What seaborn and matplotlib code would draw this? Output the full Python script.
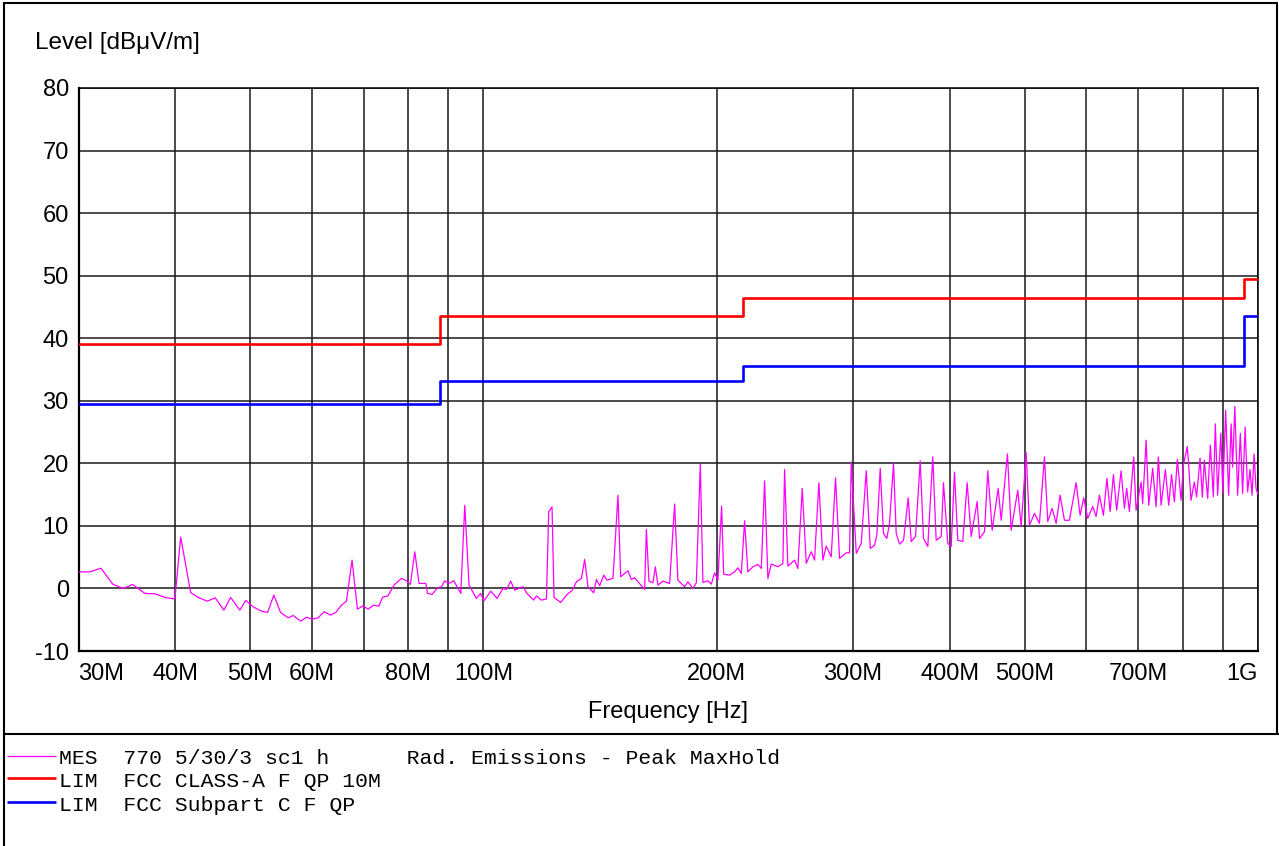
import matplotlib
matplotlib.use('Agg')
import matplotlib.pyplot as plt
from matplotlib.lines import Line2D
from matplotlib.ticker import NullFormatter
import seaborn as sns

# ---- measured trace (MHz, dBuV/m) ----
freq_mhz = [
    30.00, 31.04, 32.07, 33.21, 34.27, 35.24, 36.55, 37.66, 38.79, 39.76,
    39.96, 40.65, 41.87, 42.83, 43.99, 45.04, 46.22, 47.15, 48.47, 49.34,
    50.42, 51.70, 52.63, 53.62, 54.70, 55.95, 56.79, 58.10, 59.09, 60.08,
    61.16, 62.26, 63.45, 64.46, 65.56, 66.54, 67.66, 68.75, 69.91, 70.95,
    72.16, 73.30, 74.04, 75.29, 76.64, 78.34, 79.51, 80.46, 81.53, 82.57,
    84.24, 84.67, 85.83, 87.22, 88.26, 89.13, 90.20, 91.54, 93.47, 94.59,
    95.80, 97.93, 99.11, 100.17, 102.19, 104.11, 105.98,
    107.06, 108.44, 109.74, 112.47, 113.82, 116.11, 117.05, 118.80, 120.58, 121.40,
    122.60, 123.34, 125.81, 127.96, 130.26, 131.82, 133.79, 135.11, 136.44, 138.77,
    139.88, 141.26, 142.95, 144.36, 146.95, 149.16, 150.35, 152.15, 153.65, 155.21,
    156.74, 158.29, 161.47, 162.29, 163.55, 165.50, 166.68, 167.97, 170.49, 173.92,
    176.52, 178.25, 181.84, 183.63, 186.39, 188.28, 190.53, 192.01, 194.89, 196.87,
    198.81, 200.76, 202.98, 204.20, 207.87, 210.97, 213.05, 215.21, 217.33, 219.47,
    222.77, 226.11, 228.41, 230.65, 232.93, 235.29, 239.95, 243.53, 244.77, 247.18,
    252.15, 254.63, 257.97, 261.05, 264.97, 267.58, 271.03, 274.27, 277.06, 281.19,
    284.81, 288.22, 294.02,
    296.91, 298.43, 302.91, 307.43, 312.03, 315.78, 319.81, 321.99, 325.26, 328.47,
    331.70, 334.39, 338.37, 341.12, 344.49, 348.61, 353.49, 356.64, 361.23, 366.32,
    369.93, 374.69, 380.28, 384.14, 389.91, 392.58, 397.63, 401.67, 405.63, 409.62,
    415.74, 421.22, 426.26, 433.93, 436.93, 443.45, 447.83, 453.73, 461.89, 466.03,
    474.82, 480.07, 489.57, 494.59, 501.97, 506.91, 514.51, 522.18, 530.02, 535.24,
    542.30, 548.74, 555.30, 562.45, 570.85, 582.33, 589.30, 595.63, 602.75, 611.74,
    618.00, 624.09, 631.51, 638.16, 644.25, 650.59, 657.00, 665.66, 672.21, 676.80,
    682.24, 691.02, 695.95, 706.40, 709.73, 717.15, 722.55, 731.19, 738.62, 743.66,
    749.71, 759.30, 766.78, 773.40, 779.85, 786.82, 795.52, 801.01, 810.52, 819.48,
    827.55, 833.27, 841.73, 847.47, 852.56, 860.97, 867.88, 875.65, 880.91, 886.91,
    895.38, 900.69, 908.28, 916.40, 923.21, 927.37, 933.40, 941.27, 948.83, 955.31,
    962.50, 969.65, 976.56, 982.35, 988.54, 994.10, 1000.0,
]
level_dbuv = [
    2.65, 2.65, 3.24, 0.69, 0.00, 0.64, -0.80, -0.85, -1.44, -1.66,
    -1.60, 8.20, -0.64, -1.44, -2.03, -1.50, -3.47, -1.44, -3.47, -1.92,
    -2.94, -3.63, -3.84, -1.07, -3.84, -4.70, -4.32, -5.23, -4.59, -4.91,
    -4.70, -3.73, -4.27, -3.84, -2.67, -2.03, 4.52, -3.31, -2.78, -3.31,
    -2.67, -2.83, -1.44, -1.18, 0.53, 1.60, 1.23, 0.64, 5.85, 0.80,
    0.80, -0.80, -0.96, 0.11, 0.27, 1.23, 0.80, 1.23, -0.80, 13.30,
    0.53, -1.60, -0.80, -1.97, -0.43, -1.60, 0.00,
    -0.16, 1.17, -0.27, 0.27, -0.80, -1.86, -1.20, -1.86, -1.70, 12.25,
    13.05, -1.44, -2.24, -1.07, -0.27, 1.07, 1.60, 4.63, 0.27, -0.69,
    1.44, 0.43, 2.13, 1.33, 1.60, 14.90, 1.86, 2.40, 2.82, 1.44,
    1.70, 1.07, -0.16, 9.43, 1.17, 0.90, 3.46, 0.53, 1.17, 0.80,
    13.50, 1.33, 0.27, 1.07, 0.00, 0.90, 19.90, 0.96, 1.23, 0.69,
    2.50, 1.33, 13.16, 2.29, 2.13, 2.66, 3.30, 2.40, 10.80, 2.66,
    3.46, 3.84, 3.20, 17.20, 1.60, 3.90, 3.46, 4.00, 19.00, 3.57,
    4.53, 3.20, 16.00, 4.00, 5.86, 4.53, 16.90, 4.53, 6.77, 5.06,
    17.70, 4.80, 5.70,
    5.70, 20.20, 5.60, 7.20, 18.80, 6.40, 6.90, 8.50, 19.20, 8.80,
    8.00, 10.40, 20.00, 8.80, 7.10, 7.70, 14.50, 7.50, 8.30, 20.40,
    8.00, 6.70, 21.00, 7.70, 8.30, 16.90, 7.20, 6.70, 18.60, 7.70,
    7.50, 16.90, 8.30, 13.90, 8.00, 9.06, 18.80, 9.30, 16.00, 10.90,
    21.50, 9.30, 15.70, 9.90, 21.70, 10.10, 12.00, 10.40, 21.00, 10.70,
    12.80, 10.40, 14.90, 10.90, 10.90, 16.90, 11.70, 14.50, 11.20, 13.10,
    11.50, 14.90, 11.70, 17.60, 12.30, 18.20, 12.50, 18.80, 12.80, 16.00,
    12.30, 21.00, 12.50, 17.00, 13.60, 23.70, 13.30, 19.20, 13.05, 21.00,
    13.30, 19.00, 13.30, 18.20, 13.85, 20.60, 14.10, 19.70, 22.70, 14.10,
    17.00, 14.65, 20.85, 14.60, 20.50, 14.40, 22.90, 14.65, 26.30, 14.90,
    24.80, 15.20, 28.50, 14.90, 26.30, 19.40, 29.10, 14.90, 24.80, 15.20,
    25.80, 15.45, 19.00, 14.90, 21.50, 16.00, 15.00,
]

# ---- limit lines ----
lim_freq = [30, 88, 216, 960, 1000]
lim_class_a = [39.1, 43.5, 46.4, 49.5, 49.5]
lim_subpart_c = [29.5, 33.1, 35.6, 43.5, 43.5]

# ---- axes ticks ----
x_major = [30, 40, 50, 60, 80, 100, 200, 300, 400, 500, 700, 1000]
x_major_labels = ['30M', '40M', '50M', '60M', '80M', '100M', '200M', '300M',
                  '400M', '500M', '700M', '1G']
x_minor = [70, 90, 600, 800, 900]
y_ticks = [-10, 0, 10, 20, 30, 40, 50, 60, 70, 80]

legend_texts = [
    "MES  770 5/30/3 sc1 h      Rad. Emissions - Peak MaxHold",
    "LIM  FCC CLASS-A F QP 10M",
    "LIM  FCC Subpart C F QP",
]
c_mes, c_a, c_c = '#ff00ff', '#ff0000', '#0000ff'

sns.set_style('white')
plt.rcParams['font.family'] = ['Liberation Sans', 'DejaVu Sans']

W, H = 1279, 846
fig = plt.figure(figsize=(W / 100, H / 100), dpi=100)
ax = fig.add_axes([78.5 / W, 1 - 651 / H, (1258 - 78.5) / W, (651 - 88) / H])

sns.lineplot(x=freq_mhz, y=level_dbuv, ax=ax, color=c_mes, lw=0.9,
             estimator=None, sort=False, zorder=3)
sns.lineplot(x=lim_freq, y=lim_class_a, ax=ax, color=c_a, lw=1.9,
             estimator=None, sort=False, drawstyle='steps-post', zorder=4)
sns.lineplot(x=lim_freq, y=lim_subpart_c, ax=ax, color=c_c, lw=1.9,
             estimator=None, sort=False, drawstyle='steps-post', zorder=4)

ax.set_xscale('log')
ax.set_xlim(30, 1000)
ax.set_ylim(-10, 80)
ax.set_xticks(x_major)
ax.set_xticklabels(x_major_labels)
ax.set_xticks(x_minor, minor=True)
ax.xaxis.set_minor_formatter(NullFormatter())
ax.set_yticks(y_ticks)
ax.set_yticklabels([str(v) for v in y_ticks])
ax.set_xlabel('')
ax.set_ylabel('')
ax.set_axisbelow(True)
ax.grid(True, which='both', axis='x', color='#1a1a1a', lw=1.1)
ax.grid(True, which='major', axis='y', color='#1a1a1a', lw=1.1)
ax.tick_params(axis='both', which='both', length=0)
ax.tick_params(axis='x', which='major', labelsize=17, pad=9, colors='black')
ax.tick_params(axis='y', labelsize=17, pad=7, colors='black')
labs = ax.get_xticklabels()
labs[0].set_horizontalalignment('left')
labs[-1].set_horizontalalignment('right')
for side, lw in (('left', 1.6), ('bottom', 1.6), ('top', 1.1), ('right', 1.1)):
    ax.spines[side].set_visible(True)
    ax.spines[side].set_color('black')
    ax.spines[side].set_linewidth(lw)

fig.text(35 / W, 1 - 49 / H, 'Level [dBμV/m]', ha='left', va='baseline',
         fontsize=17.5, color='black')
fig.text(668 / W, 1 - 718 / H, 'Frequency [Hz]', ha='center', va='baseline',
         fontsize=17, color='black')

# figure frame
def fline(x0, y0, x1, y1, lw=1.5, color='black'):
    fig.add_artist(Line2D([x0 / W, x1 / W], [1 - y0 / H, 1 - y1 / H],
                          transform=fig.transFigure, color=color, lw=lw,
                          solid_capstyle='butt'))

fline(2.5, 3.5, 1276.5, 3.5)
fline(3.5, 2.5, 3.5, 846)
fline(1276.5, 2.5, 1276.5, 734)
fline(2.5, 734, 1279, 734)

# legend block
rows_y_line = [755.7, 778.3, 801.7]
rows_y_text = [764.3, 787.3, 810.5]
rows_col = [c_mes, c_a, c_c]
rows_lw = [0.9, 1.9, 1.9]
for txt, yl, yt, col, lw in zip(legend_texts, rows_y_line, rows_y_text, rows_col, rows_lw):
    fline(7, yl, 56, yl, lw=lw, color=col)
    fig.text(59 / W, 1 - yt / H, txt, ha='left', va='baseline',
             family='Liberation Mono', fontsize=15.4, color='black')

fig.savefig('out.png', dpi=100, facecolor='white')
